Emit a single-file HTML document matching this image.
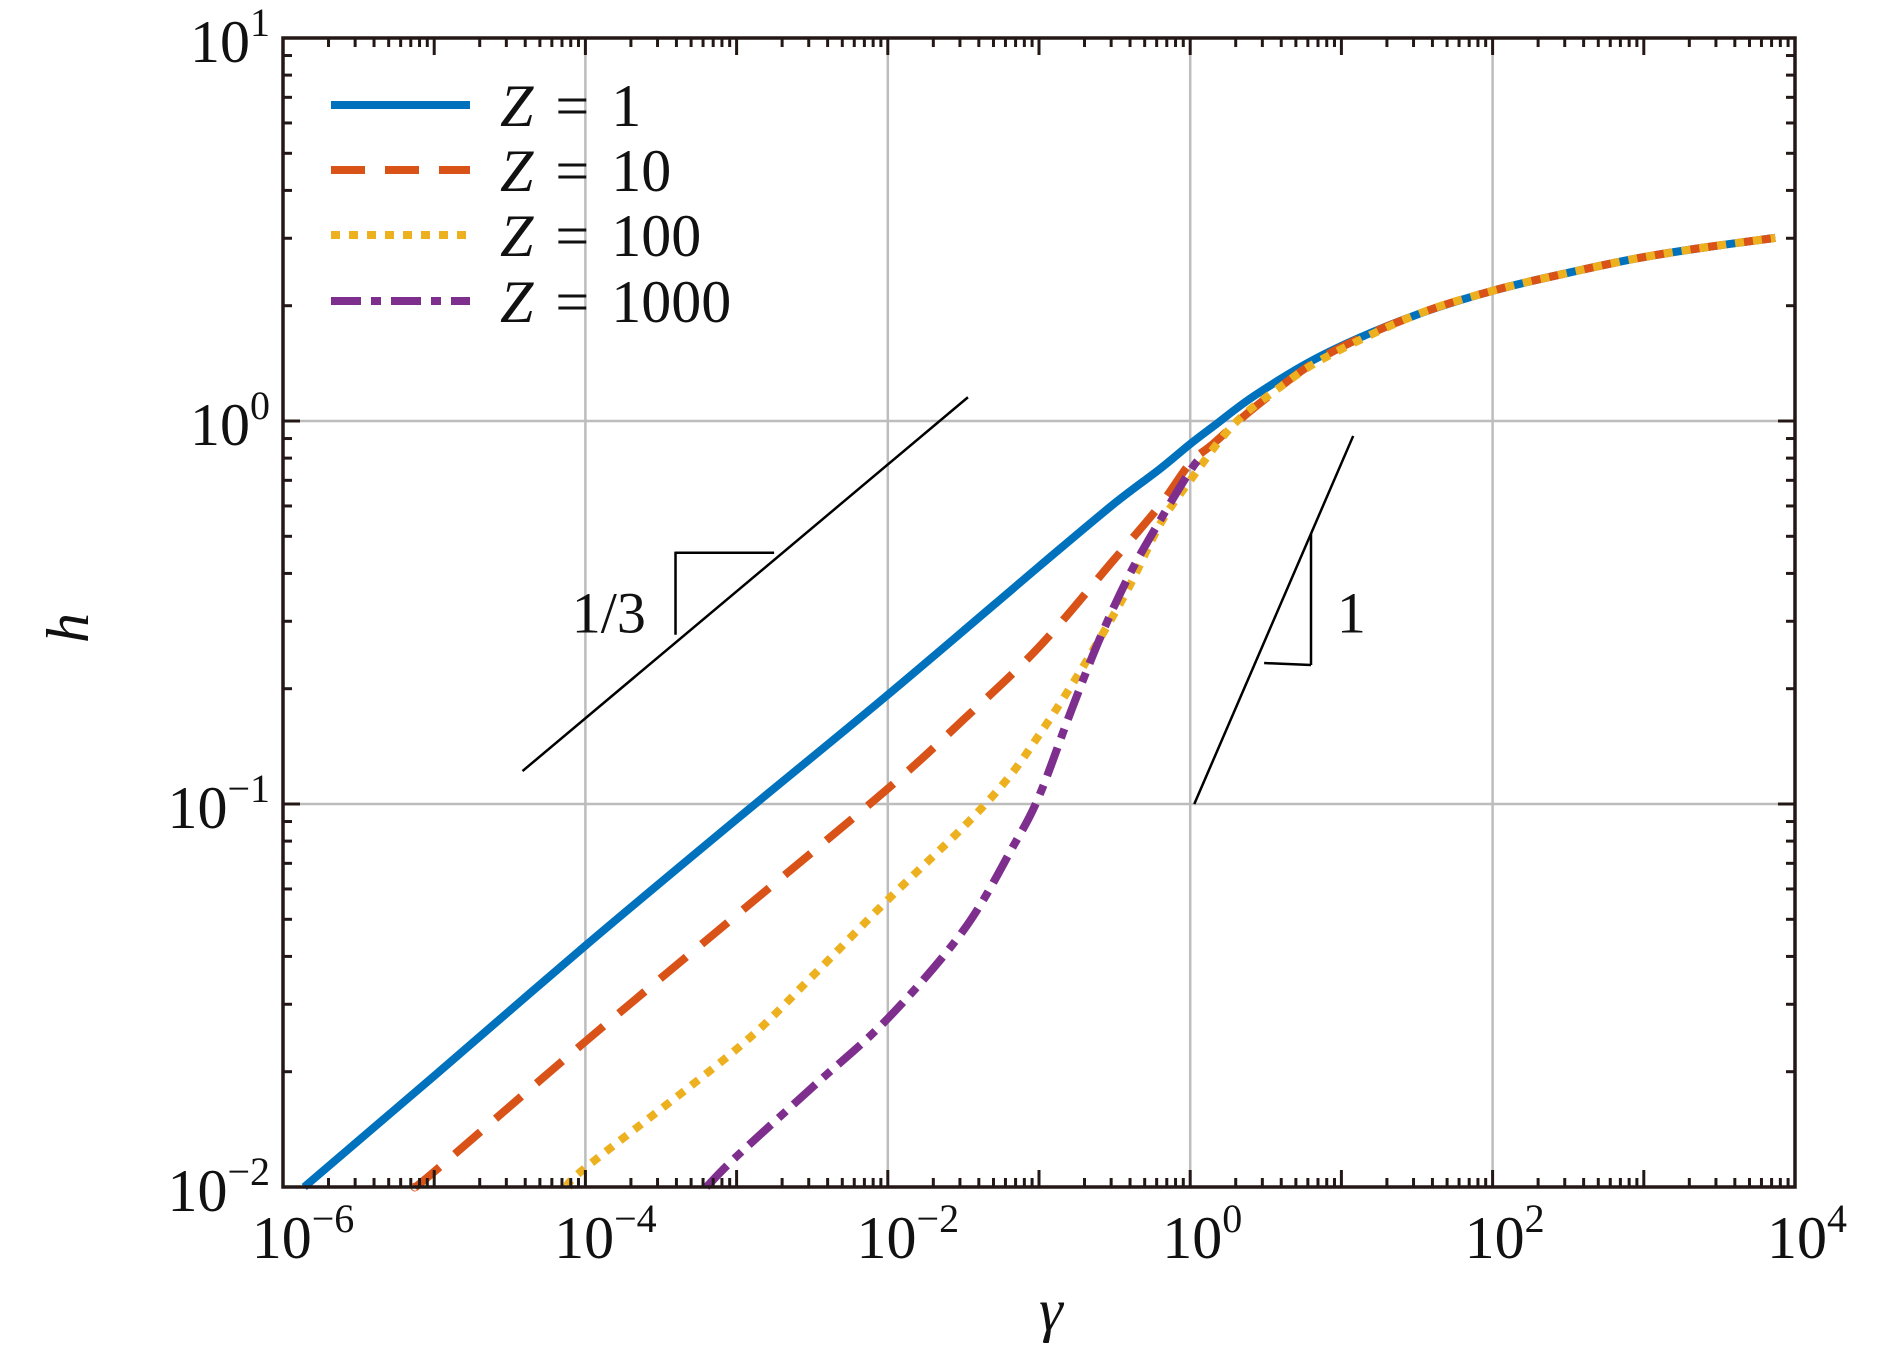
<!DOCTYPE html>
<html><head><meta charset="utf-8"><style>
html,body{margin:0;padding:0;background:#fff;}
svg{display:block;}
text{font-family:"Liberation Serif","DejaVu Serif",serif;fill:#111;}
</style></head><body>
<svg id="chart" width="1890" height="1346" viewBox="0 0 1890 1346" xmlns="http://www.w3.org/2000/svg">
<rect x="0" y="0" width="1890" height="1346" fill="#fff"/>
<g id="grid"></g>
<g id="series"></g>
<g id="annot"></g>
<g id="axes"></g>
<g id="legend"></g>
</svg>
<script>
const xTickExps = [-6, -4, -2, 0, 2, 4];
const yTickExps = [-2, -1, 0, 1];
const seriesLabels = ["Z = 1", "Z = 10", "Z = 100", "Z = 1000"];
// log10(gamma), log10(h)
const z1LogX = [-5.86, -5, -4, -3, -2, -1, -0.5, -0.2, 0, 0.15, 0.44, 0.89, 1.48, 2, 2.5, 2.96, 3.4, 3.87];
const z1LogH = [-2.0, -1.71, -1.37, -1.04, -0.715, -0.38, -0.215, -0.125, -0.06, -0.015, 0.07, 0.175, 0.275, 0.34, 0.387, 0.425, 0.453, 0.478];
const z10LogX = [-5.13, -5, -4, -3, -2, -1.5, -1, -0.5, -0.2, 0, 0.15, 0.44, 0.89, 1.48, 2, 2.5, 2.96, 3.4, 3.87];
const z10LogH = [-2.0, -1.96, -1.62, -1.29, -0.96, -0.78, -0.59, -0.36, -0.22, -0.11, -0.06, 0.04, 0.17, 0.275, 0.34, 0.387, 0.425, 0.453, 0.478];
const z100LogX = [-4.11, -4, -3, -2.5, -2, -1.5, -1.2, -1, -0.8, -0.6, -0.4, -0.2, 0, 0.285, 0.6, 0.89, 1.48, 2, 2.5, 2.96, 3.4, 3.87];
const z100LogH = [-2.0, -1.95, -1.64, -1.45, -1.25, -1.06, -0.93, -0.82, -0.7, -0.57, -0.43, -0.27, -0.155, -0.01, 0.09, 0.165, 0.275, 0.34, 0.387, 0.425, 0.453, 0.478];
const z1000LogX = [-3.2, -3, -2.5, -2, -1.5, -1.17, -1, -0.8, -0.6, -0.4, -0.2, 0, 0.08];
const z1000LogH = [-2.0, -1.92, -1.74, -1.56, -1.33, -1.11, -0.98, -0.77, -0.57, -0.4, -0.26, -0.13, -0.09];

const L = 283, R = 1795, T = 38, B = 1187;
const xMin = -6, xMax = 4, yMin = -2, yMax = 1;
function X(lx){ return L + (lx - xMin) / (xMax - xMin) * (R - L); }
function Y(ly){ return B - (ly - yMin) / (yMax - yMin) * (B - T); }
const NS = "http://www.w3.org/2000/svg";
function mk(tag, attrs, parent){ const e = document.createElementNS(NS, tag); for (const k in attrs) e.setAttribute(k, attrs[k]); parent.appendChild(e); return e; }

const grid = document.getElementById('grid');
xTickExps.slice(1, -1).forEach(e => {
  const l = mk('line', {x1: X(e), x2: X(e), y1: T, y2: B, stroke: '#bdbdbd', 'stroke-width': 2.5}, grid);
  
  
});
yTickExps.slice(1, -1).forEach(e => {
  const l = mk('line', {x1: L, x2: R, y1: Y(e), y2: Y(e), stroke: '#bdbdbd', 'stroke-width': 2.5}, grid);
  
  
});

function pathD(xs, ys){
  const p = xs.map((x, i) => [X(x), Y(ys[i])]);
  let d = 'M' + p[0][0].toFixed(1) + ',' + p[0][1].toFixed(1);
  for (let i = 0; i < p.length - 1; i++) {
    const p0 = p[Math.max(0, i - 1)], p1 = p[i], p2 = p[i + 1], p3 = p[Math.min(p.length - 1, i + 2)];
    const c1 = [p1[0] + (p2[0] - p0[0]) / 6, p1[1] + (p2[1] - p0[1]) / 6];
    const c2 = [p2[0] - (p3[0] - p1[0]) / 6, p2[1] - (p3[1] - p1[1]) / 6];
    d += 'C' + c1.map(v => v.toFixed(1)).join(',') + ' ' + c2.map(v => v.toFixed(1)).join(',') + ' ' + p2.map(v => v.toFixed(1)).join(',');
  }
  return d;
}
const styles = [
  {c: '#0072bd', dash: ''},
  {c: '#d95319', dash: '34 20'},
  {c: '#edb120', dash: '9 9'},
  {c: '#7e2f8e', dash: '30 10 10 10'}
];
const seriesData = [[z1LogX, z1LogH], [z10LogX, z10LogH], [z100LogX, z100LogH], [z1000LogX, z1000LogH]];
const sg = document.getElementById('series');
const names = ['series-z1', 'series-z10', 'series-z100', 'series-z1000'];
seriesData.forEach((s, i) => {
  const p = mk('path', {d: pathD(s[0], s[1]), fill: 'none', stroke: styles[i].c, 'stroke-width': 8, 'stroke-dasharray': styles[i].dash}, sg);
  
  
});

// slope annotations (data coordinates)
const an = document.getElementById('annot');
function aline(x1, y1, x2, y2, name){
  const l = mk('line', {x1: X(x1), y1: Y(y1), x2: X(x2), y2: Y(y2), stroke: '#000', 'stroke-width': 2.5}, an);
  
  
}
aline(-4.416, -0.914, -1.47, 0.062, 'slope-third-line');
aline(-3.404, -0.341, -3.404, -0.558, 'slope-third-vertical');
aline(-3.404, -0.344, -2.752, -0.344, 'slope-third-horizontal');
aline(0.027, -1.0, 1.078, -0.039, 'slope-one-line');
aline(0.799, -0.294, 0.799, -0.637, 'slope-one-vertical');
aline(0.489, -0.632, 0.799, -0.637, 'slope-one-horizontal');
let t = mk('text', {x: X(-3.6), y: Y(-0.5) + 20, 'font-size': 58, 'text-anchor': 'end'}, an);
t.textContent = '1/3';


t = mk('text', {x: X(0.97), y: Y(-0.5) + 20, 'font-size': 58}, an);
t.textContent = '1';



// axes, ticks, labels
const ax = document.getElementById('axes');
const box = mk('rect', {x: L, y: T, width: R - L, height: B - T, fill: 'none', stroke: '#231816', 'stroke-width': 3.5}, ax);


for (let e = xMin; e < xMax; e++) {
  for (let m = 1; m < 10; m++) {
    const lx = e + Math.log10(m);
    const len = m === 1 ? 17 : 9;
    mk('line', {x1: X(lx), x2: X(lx), y1: B, y2: B - len, stroke: '#231816', 'stroke-width': 3}, ax);
    mk('line', {x1: X(lx), x2: X(lx), y1: T, y2: T + len, stroke: '#231816', 'stroke-width': 3}, ax);
  }
}
for (let e = yMin; e < yMax; e++) {
  for (let m = 1; m < 10; m++) {
    const ly = e + Math.log10(m);
    const len = m === 1 ? 17 : 9;
    mk('line', {x1: L, x2: L + len, y1: Y(ly), y2: Y(ly), stroke: '#231816', 'stroke-width': 3}, ax);
    mk('line', {x1: R, x2: R - len, y1: Y(ly), y2: Y(ly), stroke: '#231816', 'stroke-width': 3}, ax);
  }
}
function powLabel(x, y, exp, anchor, name){
  const tx = mk('text', {x: x, y: y, 'font-size': 60, 'text-anchor': anchor}, ax);
  const a = document.createElementNS(NS, 'tspan'); a.textContent = '10'; tx.appendChild(a);
  const b = document.createElementNS(NS, 'tspan'); b.setAttribute('font-size', 40); b.setAttribute('dy', -26);
  b.textContent = exp < 0 ? '\u2212' + (-exp) : String(exp); tx.appendChild(b);
  
  
}
xTickExps.forEach(e => powLabel(X(e) + (e < 0 ? 20 : 12), 1258, e, 'middle', 'x-tick-label'));
yTickExps.forEach(e => powLabel(270, Y(e) + 24, e, 'end', 'y-tick-label'));
t = mk('text', {x: X(-1) + 12, y: 1330, 'font-size': 60, 'font-style': 'italic', 'text-anchor': 'middle'}, ax);
t.textContent = 'γ';


t = mk('text', {x: 0, y: 0, 'font-size': 60, 'font-style': 'italic', 'text-anchor': 'middle', transform: 'translate(88,628) rotate(-90)'}, ax);
t.textContent = 'h';



// legend
const lg = document.getElementById('legend');
const legY = [105, 170, 235, 301];
seriesLabels.forEach((lab, i) => {
  const g = mk('g', {}, lg);
  
  
  mk('line', {x1: 331, x2: 470, y1: legY[i], y2: legY[i], stroke: styles[i].c, 'stroke-width': 8, 'stroke-dasharray': styles[i].dash}, g);
  const tx = mk('text', {x: 500, y: legY[i] + 21, 'font-size': 60}, g);
  const a = document.createElementNS(NS, 'tspan'); a.setAttribute('font-style', 'italic'); a.textContent = 'Z'; tx.appendChild(a);
  const b = document.createElementNS(NS, 'tspan'); b.setAttribute('dx', 22); b.textContent = '='; tx.appendChild(b);
  const c = document.createElementNS(NS, 'tspan'); c.setAttribute('dx', 22); c.textContent = lab.split('= ')[1]; tx.appendChild(c);
});
</script>
</body></html>
